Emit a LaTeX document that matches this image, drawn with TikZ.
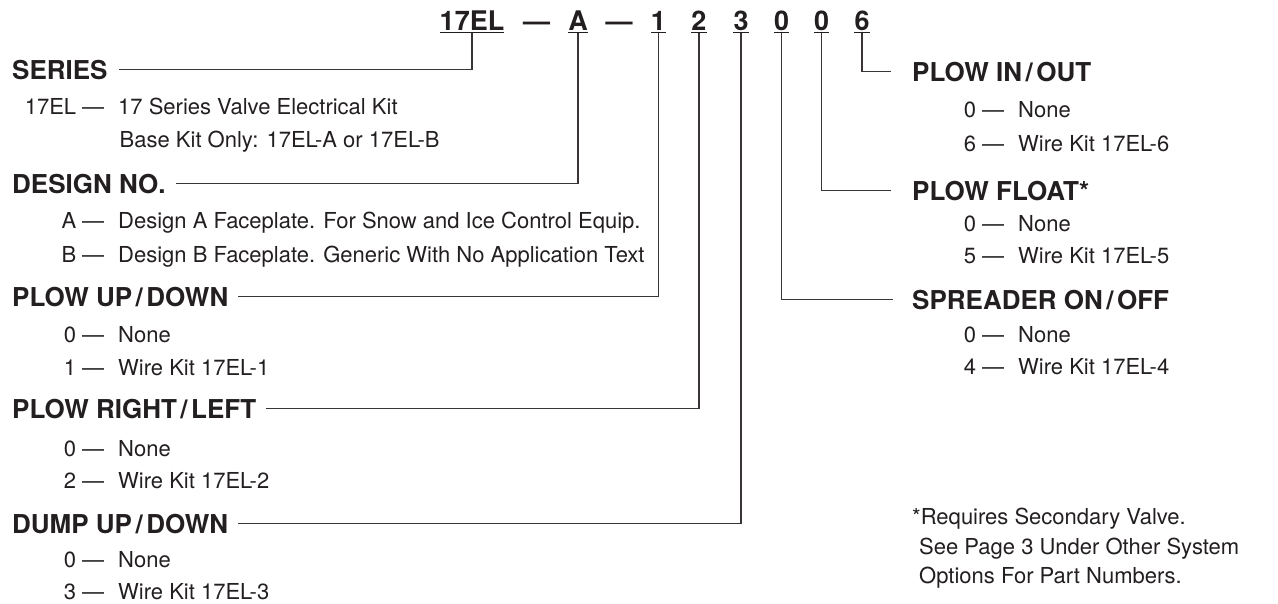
\documentclass[tikz,border=0pt]{standalone}
\usepackage{fontspec}
\setmainfont{TeX Gyre Heros}
\definecolor{ink}{HTML}{231F20}
\tikzset{
  hd/.style={anchor=base west, inner sep=0pt, text depth=0pt, text=ink,
    font=\fontsize{26}{30}\selectfont\bfseries},
  bd/.style={anchor=base west, inner sep=0pt, text=ink,
    font=\fontsize{22}{26}\selectfont},
  topc/.style={anchor=base, inner sep=0pt, text depth=0pt, text=ink,
    font=\fontsize{27}{30}\selectfont\bfseries},
  conn/.style={draw=ink!90, line width=1.1pt},
  uline/.style={draw=ink, line width=1.4pt}
}
\newcommand\myslash{\hspace{3.5pt}/\hspace{3.5pt}}
\newcommand\optline[5]{% name, x, y(baseline), code, text
  \node[bd] (#1) at (#2,#3) {\makebox[64pt][r]{#4}\hspace{6pt}—\hspace{14pt}#5};}
\begin{document}
\begin{tikzpicture}[x=1pt,y=-1pt]
\useasboundingbox (0,0) rectangle (1278,603);
% top code
\node[topc] (c17) at (472,30) {17EL};
\node[topc] (d1) at (536.5,30) {—};
\node[topc] (cA) at (578,30) {A};
\node[topc] (d2) at (619,30) {—};
\node[topc] (c1) at (658.5,30) {1};
\node[topc] (c2) at (699,30) {2};
\node[topc] (c3) at (741,30) {3};
\node[topc] (c4) at (781.5,30) {0};
\node[topc] (c5) at (821.5,30) {0};
\node[topc] (c6) at (862,30) {6};
\foreach \c in {c17,cA,c1,c2,c3,c4,c5,c6}
  \draw[uline] ([yshift=-2.3pt]\c.south west) -- ([yshift=-2.3pt]\c.south east);
% left column
\node[hd] (hSe) at (12,79.3) {SERIES};
\optline{s1}{12}{114.7}{17EL}{17 Series Valve Electrical Kit}
\node[bd] (s2) at (119.5,147.5) {Base Kit Only: 17EL-A or 17EL-B};
\node[hd] (hDe) at (12,193) {DESIGN NO.};
\optline{de1}{12}{228}{A}{Design A Faceplate. For Snow and Ice Control Equip.}
\optline{de2}{12}{262}{B}{Design B Faceplate. Generic With No Application Text}
\node[hd] (hUp) at (12,306) {PLOW UP\myslash DOWN};
\optline{up1}{12}{342}{0}{None}
\optline{up2}{12}{375}{1}{Wire Kit 17EL-1}
\node[hd] (hRl) at (12,418) {PLOW RIGHT\myslash LEFT};
\optline{rl1}{12}{456}{0}{None}
\optline{rl2}{12}{488.5}{2}{Wire Kit 17EL-2}
\node[hd] (hDu) at (12,533.5) {DUMP UP\myslash DOWN};
\optline{du1}{12}{567.5}{0}{None}
\optline{du2}{12}{599.5}{3}{Wire Kit 17EL-3}
% right column
\node[hd] (hIo) at (912,81) {PLOW IN\myslash OUT};
\optline{io1}{912}{117.7}{0}{None}
\optline{io2}{912}{151}{6}{Wire Kit 17EL-6}
\node[hd] (hFl) at (912,200) {PLOW FLOAT*};
\optline{fl1}{912}{231}{0}{None}
\optline{fl2}{912}{263}{5}{Wire Kit 17EL-5}
\node[hd] (hSp) at (912,309) {SPREADER ON\myslash OFF};
\optline{sp1}{912}{342.7}{0}{None}
\optline{sp2}{912}{374.5}{4}{Wire Kit 17EL-4}
\node[bd] (n1) at (912,524.5) {*Requires Secondary Valve.};
\node[bd] (n2) at (919,554) {See Page 3 Under Other System};
\node[bd] (n3) at (919,583.5) {Options For Part Numbers.};
% connectors
\draw[conn] ([xshift=11pt]hSe.east) -| ([yshift=-2.3pt]c17.south);
\draw[conn] ([xshift=10pt]hDe.east) -| ([yshift=-2.3pt]cA.south);
\draw[conn] ([xshift=10pt]hUp.east) -| ([yshift=-2.3pt]c1.south);
\draw[conn] ([xshift=10pt]hRl.east) -| ([yshift=-2.3pt]c2.south);
\draw[conn] ([xshift=10pt]hDu.east) -| ([yshift=-2.3pt]c3.south);
\draw[conn] ([yshift=-2.3pt]c4.south) |- ([xshift=-19pt]hSp.west);
\draw[conn] ([yshift=-2.3pt]c5.south) |- ([xshift=-21pt]hFl.west);
\draw[conn] ([yshift=-2.3pt]c6.south) |- ([xshift=-21pt]hIo.west);
\end{tikzpicture}
\end{document}
